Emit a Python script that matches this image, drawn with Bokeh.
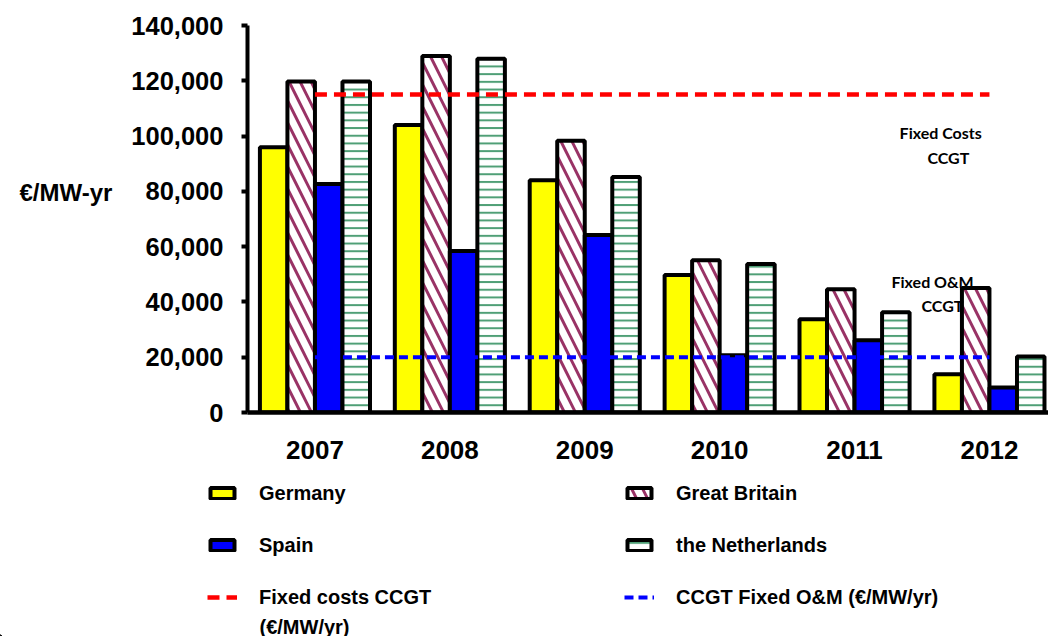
from bokeh.plotting import figure
from bokeh.models import (Range1d, FixedTicker, NumeralTickFormatter, Legend,
                          LegendItem, Label, ColumnDataSource)
from bokeh.transform import dodge
from bokeh.embed import file_html
from bokeh.resources import INLINE

# ---------------- data ----------------
years = ["2007", "2008", "2009", "2010", "2011", "2012"]
germany = [96000, 104000, 84000, 49700, 33700, 13800]
great_britain = [119700, 129000, 98300, 55100, 44600, 45000]
spain = [82700, 58400, 64200, 20700, 26100, 9000]
netherlands = [119700, 128000, 85200, 53700, 36300, 20300]
fixed_costs_ccgt = [115000, 115000, 115000, 115000, 115000, 115000]
fixed_om_ccgt = [20000, 20000, 20000, 20000, 20000, 20000]
y_ticks = [0, 20000, 40000, 60000, 80000, 100000, 120000, 140000]

# ---------------- layout constants ----------------
W = 1048
H1, H2 = 470, 166
BL, BR, BT, BB = 247, 0, 25, 58
PX_PER_CAT = 134.9
x_end = -0.5 + (W - BL - BR) / PX_PER_CAT
bw = 0.204

FONT = "'Liberation Sans', Arial, sans-serif"
ANN_FONT = "Lato, 'Open Sans', sans-serif"

# ---------------- styles ----------------
S_DE = dict(fill_color="#ffff00", line_color="black", line_width=4)
S_GB = dict(fill_color="white", hatch_pattern="\\", hatch_color="#993366",
            hatch_weight=3, hatch_scale=22, line_color="black", line_width=4)
S_ES = dict(fill_color="#0000ff", line_color="black", line_width=4)
S_NL = dict(fill_color="white", hatch_pattern="-", hatch_color="#4f9f76",
            hatch_weight=2, hatch_scale=7.7, line_color="black", line_width=4)
S_FC = dict(line_color="#ff0000", line_width=4.5, line_dash="12 7")
S_OM = dict(line_color="#0000ff", line_width=4, line_dash="9 5")

idx = list(range(len(years)))
src = ColumnDataSource(dict(x=idx, de=germany, gb=great_britain, es=spain,
                            nl=netherlands, fc=fixed_costs_ccgt, om=fixed_om_ccgt))

p = figure(width=W, height=H1, output_backend="svg", toolbar_location=None,
           x_range=Range1d(-0.5, x_end), y_range=Range1d(0, 140000),
           min_border_left=BL, min_border_right=BR, min_border_top=BT,
           min_border_bottom=BB)
p.outline_line_color = None
p.xgrid.visible = False
p.ygrid.visible = False
p.background_fill_color = "white"
p.border_fill_color = "white"

p.vbar(x=dodge("x", -1.5 * bw), top="de", width=bw, source=src, **S_DE)
p.vbar(x=dodge("x", -0.5 * bw), top="gb", width=bw, source=src, **S_GB)
p.vbar(x=dodge("x", 0.5 * bw), top="es", width=bw, source=src, **S_ES)
p.vbar(x=dodge("x", 1.5 * bw), top="nl", width=bw, source=src, **S_NL)
p.line(x="x", y="fc", source=src, **S_FC)
p.line(x="x", y="om", source=src, **S_OM)

# axes
p.yaxis.ticker = FixedTicker(ticks=y_ticks)
p.yaxis.formatter = NumeralTickFormatter(format="0,0")
p.yaxis.major_label_text_font = FONT
p.yaxis.major_label_text_font_style = "bold"
p.yaxis.major_label_text_font_size = "25.5px"
p.yaxis.major_label_text_color = "black"
p.yaxis.axis_line_width = 4
p.yaxis.axis_line_color = "black"
p.yaxis.major_tick_line_width = 4
p.yaxis.major_tick_out = 6
p.yaxis.major_tick_in = 0
p.yaxis.minor_tick_line_color = None
p.yaxis.major_label_standoff = 18
p.yaxis.axis_label = "€/MW-yr\n\n"
p.yaxis.axis_label_orientation = "horizontal"
p.yaxis.axis_label_standoff = 16
p.yaxis.axis_label_text_font = FONT
p.yaxis.axis_label_text_font_style = "bold"
p.yaxis.axis_label_text_font_size = "24px"
p.yaxis.axis_label_text_line_height = 1.0
p.yaxis.axis_label_text_color = "black"

p.xaxis.ticker = FixedTicker(ticks=idx)
p.xaxis.major_label_overrides = {i: y for i, y in zip(idx, years)}
p.xaxis.major_label_text_font = FONT
p.xaxis.major_label_text_font_style = "bold"
p.xaxis.major_label_text_font_size = "26px"
p.xaxis.major_label_text_color = "black"
p.xaxis.axis_line_width = 4.5
p.xaxis.axis_line_color = "black"
p.xaxis.major_tick_line_color = None
p.xaxis.minor_tick_line_color = None
p.xaxis.major_label_standoff = 22

# annotations
for tx, ty, tt in [(4.334, 101200, "Fixed Costs"), (4.54, 92100, "CCGT"),
                   (4.274, 47500, "Fixed O&M"), (4.496, 38800, "CCGT")]:
    p.add_layout(Label(x=tx, y=ty, text=tt, text_font=ANN_FONT,
                       text_font_style="bold", text_font_size="16px",
                       text_baseline="middle", text_align="left",
                       text_color="black"))

# ---------------- legend panel (separate root below) ----------------
lf = figure(width=W, height=H2, output_backend="svg", toolbar_location=None,
            x_range=Range1d(0, W), y_range=Range1d(0, H2),
            x_axis_type=None, y_axis_type=None,
            min_border_left=0, min_border_right=0, min_border_top=0,
            min_border_bottom=0)
lf.outline_line_color = None
lf.xgrid.visible = False
lf.ygrid.visible = False
lf.background_fill_color = "white"
lf.border_fill_color = "white"

# legend proxies (kept far outside the visible range)
k_de = lf.vbar(x=[-5000], bottom=[-5000], top=[-4999], width=1, **S_DE)
k_gb = lf.vbar(x=[-5000], bottom=[-5000], top=[-4999], width=1, **S_GB)
k_es = lf.vbar(x=[-5000], bottom=[-5000], top=[-4999], width=1, **S_ES)
k_nl = lf.vbar(x=[-5000], bottom=[-5000], top=[-4999], width=1, **S_NL)
k_fc = lf.line(x=[-5001, -5000], y=[-5000, -5000], **S_FC)
k_om = lf.line(x=[-5001, -5000], y=[-5000, -5000], **S_OM)

def make_legend(items, loc):
    return Legend(items=items, location=loc, orientation="vertical",
                  padding=0, margin=0, spacing=28, glyph_width=30,
                  glyph_height=14, label_height=24, label_standoff=22,
                  label_text_font=FONT, label_text_font_style="bold",
                  label_text_font_size="20px", label_text_color="black",
                  border_line_color=None, background_fill_alpha=0)

lf.add_layout(make_legend([LegendItem(label="Germany", renderers=[k_de]),
                           LegendItem(label="Spain", renderers=[k_es]),
                           LegendItem(label="Fixed costs CCGT", renderers=[k_fc])],
                          (207, 27)))
lf.add_layout(make_legend([LegendItem(label="Great Britain", renderers=[k_gb]),
                           LegendItem(label="the Netherlands", renderers=[k_nl]),
                           LegendItem(label="CCGT Fixed O&M (€/MW/yr)", renderers=[k_om])],
                          (624, 27)))
lf.add_layout(Label(x=259, y=10, text="(€/MW/yr)", text_font=FONT,
                    text_font_style="bold", text_font_size="20px",
                    text_baseline="middle", text_align="left", text_color="black"))

open("out.html", "w").write(file_html([p, lf], INLINE))
